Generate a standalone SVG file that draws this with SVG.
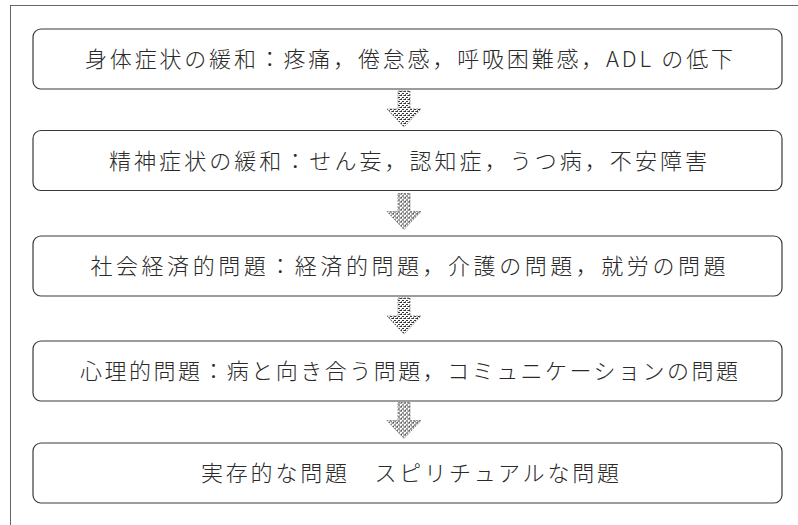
<svg xmlns="http://www.w3.org/2000/svg" width="798" height="525" viewBox="0 0 798 525">
  <defs>
    <pattern id="hatch" width="4" height="4" patternUnits="userSpaceOnUse">
      <rect width="4" height="4" fill="#ffffff"/>
      <rect x="0" y="0" width="2" height="1" fill="#333"/>
      <rect x="2" y="2" width="2" height="1" fill="#333"/>
      <rect x="3" y="0" width="1" height="1" fill="#777"/>
      <rect x="1" y="3" width="1" height="1" fill="#777"/>
    </pattern>
    <path id="arrow" d="M-6,0 H6 V18 H17 L0,36 L-17,18 H-6 Z"/>
  </defs>
  <style>
    .frame { fill: none; stroke: #666; stroke-width: 1; }
    .box { fill: #ffffff; stroke: #3a3a3a; stroke-width: 1.2; }
    .label { font-family: "Noto Sans CJK JP", "Noto Sans", sans-serif; font-size: 22px; font-weight: 300; fill: #2a2a2a; text-anchor: middle; }
    .arr { fill: url(#hatch); stroke: #666; stroke-width: 0.7; stroke-dasharray: 2 1; }
  </style>
  <rect width="798" height="525" fill="#ffffff"/>
  <rect class="frame" x="10.5" y="5.5" width="800" height="530"/>

  <g id="connectors">
    <use href="#arrow" class="arr" x="404" y="91"/>
    <use href="#arrow" class="arr" x="404" y="193.5"/>
    <use href="#arrow" class="arr" x="404" y="298"/>
    <use href="#arrow" class="arr" x="404" y="402.5"/>
  </g>

  <g id="node1">
    <rect class="box" x="33" y="29" width="749" height="60" rx="8"/>
    <text class="label" x="409" y="67" textLength="648" lengthAdjust="spacing">身体症状の緩和：疼痛，倦怠感，呼吸困難感，ADL の低下</text>
  </g>
  <g id="node2">
    <rect class="box" x="33" y="130.5" width="749" height="60" rx="8"/>
    <text class="label" x="408" y="168.5" textLength="598" lengthAdjust="spacing">精神症状の緩和：せん妄，認知症，うつ病，不安障害</text>
  </g>
  <g id="node3">
    <rect class="box" x="33" y="236" width="749" height="60" rx="8"/>
    <text class="label" x="408" y="274" textLength="635" lengthAdjust="spacing">社会経済的問題：経済的問題，介護の問題，就労の問題</text>
  </g>
  <g id="node4">
    <rect class="box" x="33" y="341" width="749" height="60" rx="8"/>
    <text class="label" x="409" y="379" textLength="658" lengthAdjust="spacing">心理的問題：病と向き合う問題，コミュニケーションの問題</text>
  </g>
  <g id="node5">
    <rect class="box" x="33" y="443" width="749" height="60" rx="8"/>
    <text class="label" x="410" y="481" textLength="418" lengthAdjust="spacing">実存的な問題　スピリチュアルな問題</text>
  </g>
</svg>
